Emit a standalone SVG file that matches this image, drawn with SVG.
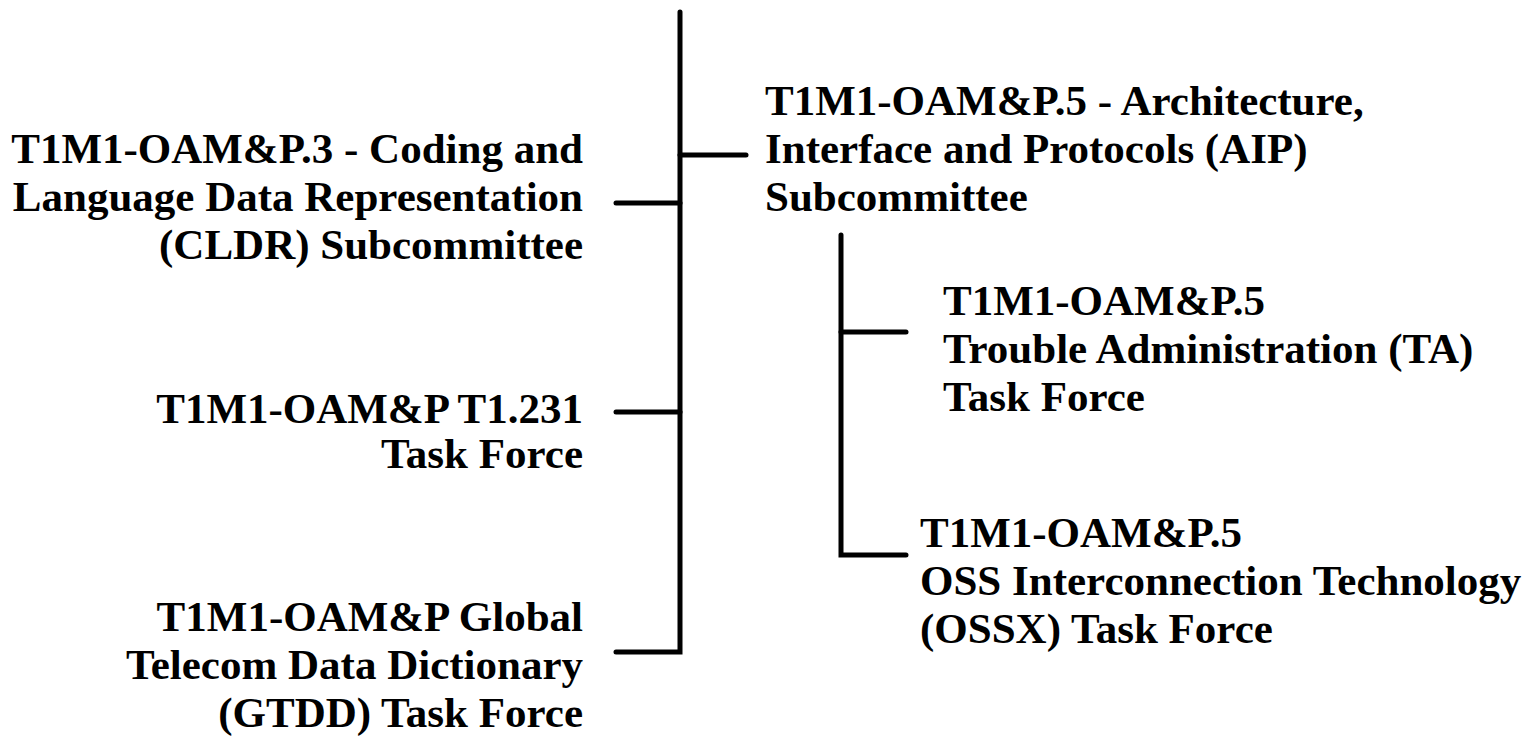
<svg xmlns="http://www.w3.org/2000/svg" width="1536" height="747" viewBox="0 0 1536 747">
<style>
.t{font-family:"Liberation Serif","Times New Roman",serif;font-weight:bold;font-size:43px;fill:#000}
.r{text-anchor:end}
.c{fill:none;stroke:#000;stroke-width:5;stroke-linecap:round;stroke-linejoin:miter}
</style>
<rect width="1536" height="747" fill="#fff"/>
<g id="connectors">
<path class="c" d="M616 652 H680 V12"/>
<path class="c" d="M680 155 H746"/>
<path class="c" d="M616 203 H680"/>
<path class="c" d="M616 412 H680"/>
<path class="c" d="M841 235 V555 H906"/>
<path class="c" d="M841 332 H906"/>
</g>
<g id="cldr">
<text class="t r" x="583" y="163">T1M1-OAM&amp;P.3 - Coding and</text>
<text class="t r" x="583" y="211">Language Data Representation</text>
<text class="t r" x="583" y="259">(CLDR) Subcommittee</text>
</g>
<g id="t1231">
<text class="t r" x="583" y="423">T1M1-OAM&amp;P T1.231</text>
<text class="t r" x="583" y="468">Task Force</text>
</g>
<g id="gtdd">
<text class="t r" x="583" y="631">T1M1-OAM&amp;P Global</text>
<text class="t r" x="583" y="679">Telecom Data Dictionary</text>
<text class="t r" x="583" y="727">(GTDD) Task Force</text>
</g>
<g id="aip">
<text class="t" x="765" y="115">T1M1-OAM&amp;P.5 - Architecture,</text>
<text class="t" x="765" y="163">Interface and Protocols (AIP)</text>
<text class="t" x="765" y="211">Subcommittee</text>
</g>
<g id="ta">
<text class="t" x="943" y="315">T1M1-OAM&amp;P.5</text>
<text class="t" x="943" y="363">Trouble Administration (TA)</text>
<text class="t" x="943" y="411">Task Force</text>
</g>
<g id="ossx">
<text class="t" x="920" y="547">T1M1-OAM&amp;P.5</text>
<text class="t" x="920" y="595">OSS Interconnection Technology</text>
<text class="t" x="920" y="643">(OSSX) Task Force</text>
</g>
</svg>
